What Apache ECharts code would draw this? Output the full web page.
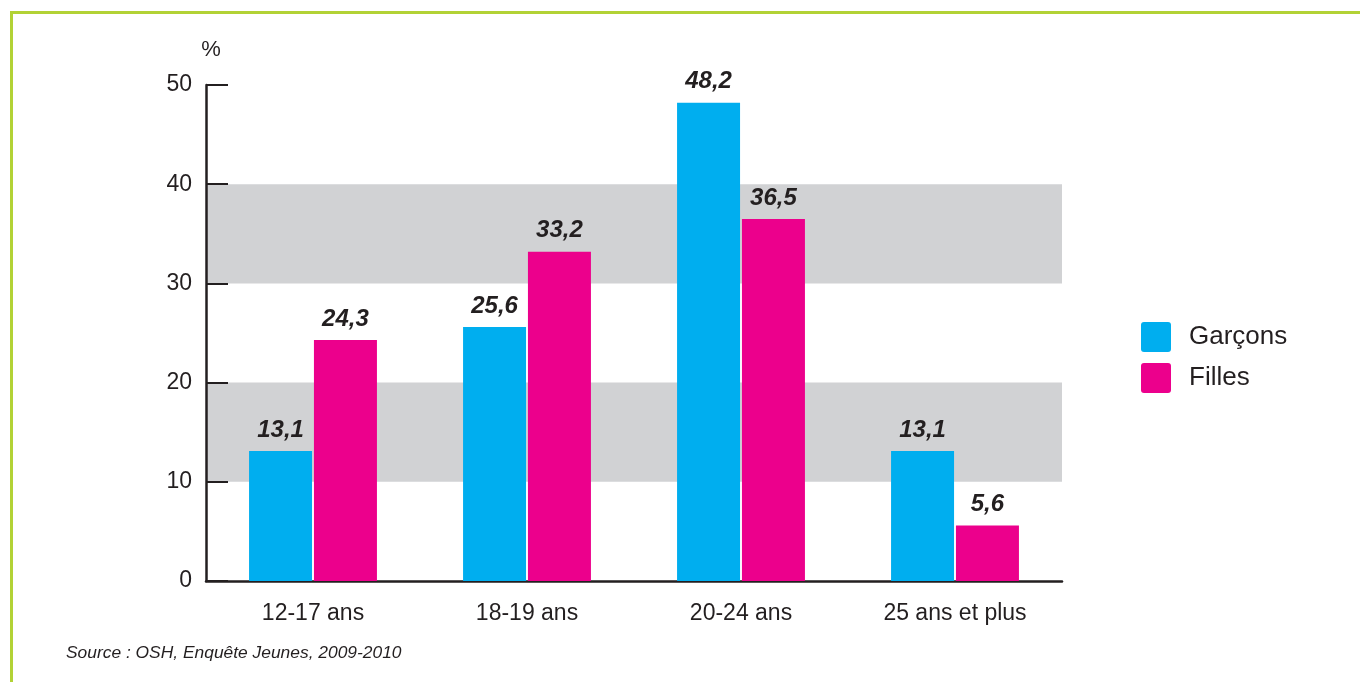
<!DOCTYPE html>
<html>
<head>
<meta charset="utf-8">
<script src="https://cdn.jsdelivr.net/npm/echarts@6/dist/echarts.min.js"></script>
<style>
  html, body { margin: 0; padding: 0; background: #ffffff; }
  #chart { width: 1360px; height: 682px; }
</style>
</head>
<body>
<div id="chart"></div>
<script>
// Age groups and shares (%) by sex
const categories = ['12-17 ans', '18-19 ans', '20-24 ans', '25 ans et plus'];
const garcons = [13.1, 25.6, 48.2, 13.1];
const filles = [24.3, 33.2, 36.5, 5.6];
const seriesNames = ['Garçons', 'Filles'];
const sourceText = 'Source : OSH, Enquête Jeunes, 2009-2010';

const ink = '#231f20';
const ff = 'Liberation Sans';

const labelStyle = {
  show: true,
  position: 'top',
  distance: 9,
  fontSize: 24,
  fontWeight: 'bold',
  fontStyle: 'italic',
  fontFamily: ff,
  color: ink,
  formatter: p => p.value.toFixed(1).replace('.', ',')
};

const chart = echarts.init(document.getElementById('chart'), null, { renderer: 'canvas' });

chart.setOption({
  animation: false,
  textStyle: { fontFamily: ff },
  grid: { left: 206, right: 298, top: 85, bottom: 101 },
  legend: {
    data: seriesNames,
    orient: 'vertical',
    left: 1141,
    top: 322,
    padding: 0,
    itemWidth: 30,
    itemHeight: 30,
    itemGap: 11,
    icon: 'path://M3,0 H27 Q30,0 30,3 V27 Q30,30 27,30 H3 Q0,30 0,27 V3 Q0,0 3,0 Z',
    textStyle: { fontSize: 26, color: ink, fontFamily: ff, padding: [3, 0, 0, 13] }
  },
  xAxis: {
    type: 'category',
    data: categories,
    axisLine: { lineStyle: { color: ink, width: 2.5 } },
    axisTick: { inside: true, length: 11, lineStyle: { color: ink, width: 2 } },
    axisLabel: { fontSize: 23, color: ink, margin: 21, fontFamily: ff }
  },
  yAxis: {
    type: 'value',
    min: 0,
    max: 50,
    interval: 10,
    name: '%',
    nameLocation: 'end',
    nameGap: 24,
    nameTextStyle: { fontSize: 22, color: ink, align: 'center', fontFamily: ff, padding: [0, 0, 0, 10] },
    axisLine: { show: true, lineStyle: { color: ink, width: 2.5 } },
    axisTick: { show: true, inside: true, length: 22, lineStyle: { color: ink, width: 2 } },
    axisLabel: { fontSize: 23, color: ink, margin: 14, fontFamily: ff },
    splitLine: { show: false },
    splitArea: { show: true, areaStyle: { color: ['rgba(0,0,0,0)', '#d1d2d4'] } }
  },
  series: [
    {
      name: seriesNames[0],
      type: 'bar',
      data: garcons,
      barWidth: 63,
      barGap: '3%',
      itemStyle: { color: '#00aeef' },
      label: labelStyle
    },
    {
      name: seriesNames[1],
      type: 'bar',
      data: filles,
      barWidth: 63,
      itemStyle: { color: '#ec008c' },
      label: labelStyle
    }
  ],
  graphic: [
    // green frame around the figure (top and left edges)
    {
      type: 'polyline',
      shape: { points: [[11.5, 682], [11.5, 12.5], [1360, 12.5]] },
      style: { stroke: '#b2d235', lineWidth: 3, fill: null }
    },
    {
      type: 'text',
      left: 66,
      top: 645,
      style: {
        text: sourceText,
        fontSize: 17.4,
        fontStyle: 'italic',
        fontFamily: ff,
        fill: ink
      }
    }
  ]
});
</script>
</body>
</html>
